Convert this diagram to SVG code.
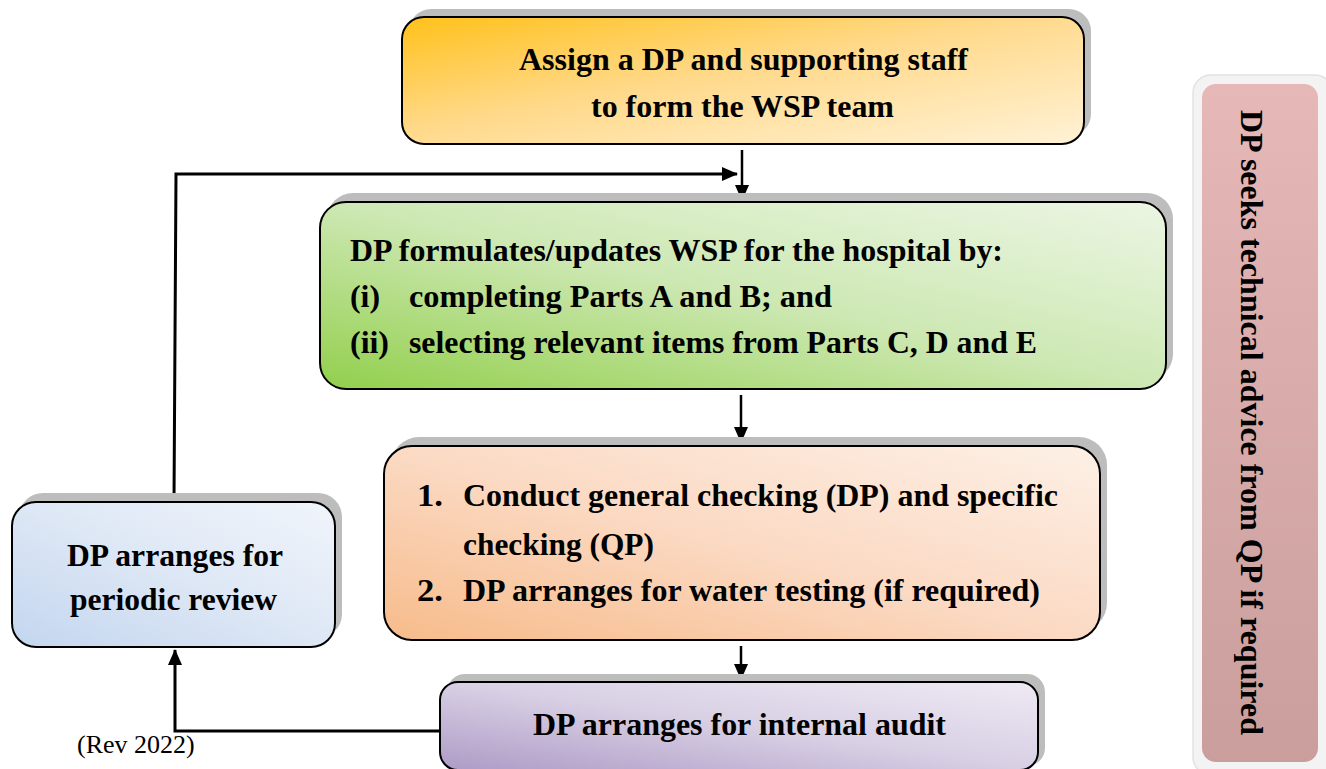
<svg xmlns="http://www.w3.org/2000/svg" width="1326" height="769" viewBox="0 0 1326 769">
<style>
.t{font-family:"Liberation Serif","Times New Roman",Times,serif;font-weight:700;font-size:31px;fill:#000}
.r{font-family:"Liberation Serif","Times New Roman",Times,serif;font-size:26px;fill:#000}
.box{stroke:#000;stroke-width:2}
.sh{fill:#bdbdbd}
.conn{fill:none;stroke:#000}
</style>
<defs>
<linearGradient id="gOrange" x1="0" y1="0" x2="1" y2="1">
<stop offset="0" stop-color="#ffc11a"/><stop offset="0.45" stop-color="#ffd98a"/><stop offset="1" stop-color="#fff2d6"/>
</linearGradient>
<linearGradient id="gGreen" x1="0" y1="1" x2="1" y2="0">
<stop offset="0" stop-color="#92cf4c"/><stop offset="0.5" stop-color="#cde8b3"/><stop offset="1" stop-color="#ecf6e4"/>
</linearGradient>
<linearGradient id="gPeach" x1="0" y1="1" x2="1" y2="0">
<stop offset="0" stop-color="#f7bb8a"/><stop offset="0.5" stop-color="#fbdac4"/><stop offset="1" stop-color="#fdf0e6"/>
</linearGradient>
<linearGradient id="gPurple" x1="0" y1="1" x2="1" y2="0">
<stop offset="0" stop-color="#ad9bc6"/><stop offset="0.5" stop-color="#d8cfe4"/><stop offset="1" stop-color="#eeeaf4"/>
</linearGradient>
<linearGradient id="gBlue" x1="0" y1="1" x2="1" y2="0">
<stop offset="0" stop-color="#c3d6ef"/><stop offset="0.5" stop-color="#dde7f5"/><stop offset="1" stop-color="#f1f5fb"/>
</linearGradient>
<linearGradient id="gPink" x1="0" y1="0" x2="0" y2="1">
<stop offset="0" stop-color="#e6b8b7"/><stop offset="1" stop-color="#c99e9d"/>
</linearGradient>
<marker id="ah" markerUnits="userSpaceOnUse" markerWidth="16" markerHeight="14" refX="15" refY="7" orient="auto">
<path d="M0,0 L16,7 L0,14 z" fill="#000"/>
</marker>
</defs>

<g id="connectors">
<line class="conn" x1="742" y1="150" x2="742" y2="200" stroke-width="2.5" marker-end="url(#ah)"/>
<polyline class="conn" points="174,501 176,174 737,174" stroke-width="3" marker-end="url(#ah)"/>
<line class="conn" x1="741" y1="395" x2="741" y2="442" stroke-width="2.5" marker-end="url(#ah)"/>
<line class="conn" x1="741" y1="646" x2="741" y2="679" stroke-width="2.5" marker-end="url(#ah)"/>
<polyline class="conn" points="441,731 175,731 175,650" stroke-width="3" marker-end="url(#ah)"/>
</g>

<g id="node-assign">
<rect class="sh" x="409" y="9" width="682" height="127" rx="22"/>
<rect class="box" x="402" y="17" width="682" height="127" rx="22" fill="url(#gOrange)"/>
<text class="t" x="743.5" y="70" text-anchor="middle" textLength="449" lengthAdjust="spacingAndGlyphs">Assign a DP and supporting staff</text>
<text class="t" x="742.5" y="117" text-anchor="middle" textLength="303" lengthAdjust="spacingAndGlyphs">to form the WSP team</text>
</g>

<g id="node-formulate">
<rect class="sh" x="327" y="193" width="846" height="187" rx="26"/>
<rect class="box" x="320" y="202" width="846" height="187" rx="26" fill="url(#gGreen)"/>
<text class="t" x="350" y="261" textLength="653" lengthAdjust="spacingAndGlyphs">DP formulates/updates WSP for the hospital by:</text>
<text class="t" x="350" y="307" textLength="30" lengthAdjust="spacingAndGlyphs">(i)</text>
<text class="t" x="409" y="307" textLength="423" lengthAdjust="spacingAndGlyphs">completing Parts A and B; and</text>
<text class="t" x="350" y="353" textLength="39" lengthAdjust="spacingAndGlyphs">(ii)</text>
<text class="t" x="409" y="353" textLength="628" lengthAdjust="spacingAndGlyphs">selecting relevant items from Parts C, D and E</text>
</g>

<g id="node-check">
<rect class="sh" x="391" y="437" width="716" height="194" rx="28"/>
<rect class="box" x="384" y="446" width="716" height="194" rx="28" fill="url(#gPeach)"/>
<text class="t" x="417" y="506" textLength="26" lengthAdjust="spacingAndGlyphs">1.</text>
<text class="t" x="463" y="506" textLength="595" lengthAdjust="spacingAndGlyphs">Conduct general checking (DP) and specific</text>
<text class="t" x="463" y="555" textLength="191" lengthAdjust="spacingAndGlyphs">checking (QP)</text>
<text class="t" x="417" y="601" textLength="26" lengthAdjust="spacingAndGlyphs">2.</text>
<text class="t" x="463" y="601" textLength="577" lengthAdjust="spacingAndGlyphs">DP arranges for water testing (if required)</text>
</g>

<g id="node-audit">
<rect class="sh" x="447" y="674" width="598" height="92" rx="18"/>
<rect class="box" x="440" y="682" width="598" height="88" rx="18" fill="url(#gPurple)"/>
<text class="t" x="739.5" y="735" text-anchor="middle" textLength="413" lengthAdjust="spacingAndGlyphs">DP arranges for internal audit</text>
</g>

<g id="node-review">
<rect class="sh" x="19" y="493" width="323" height="145" rx="24"/>
<rect class="box" x="12" y="502" width="323" height="145" rx="24" fill="url(#gBlue)"/>
<text class="t" x="175" y="566" text-anchor="middle" textLength="216" lengthAdjust="spacingAndGlyphs">DP arranges for</text>
<text class="t" x="173.5" y="610" text-anchor="middle" textLength="207" lengthAdjust="spacingAndGlyphs">periodic review</text>
</g>

<g id="node-advice">
<rect x="1193" y="75" width="140" height="700" rx="18" fill="#f3f3f3" stroke="#e2e2e2" stroke-width="1.5"/>
<rect x="1202" y="84" width="116" height="678" rx="14" fill="url(#gPink)"/>
<text class="t" transform="translate(1241,110) rotate(90)" x="0" y="0" textLength="625" lengthAdjust="spacingAndGlyphs">DP seeks technical advice from QP if required</text>
</g>

<text class="r" x="77" y="753">(Rev 2022)</text>
</svg>
